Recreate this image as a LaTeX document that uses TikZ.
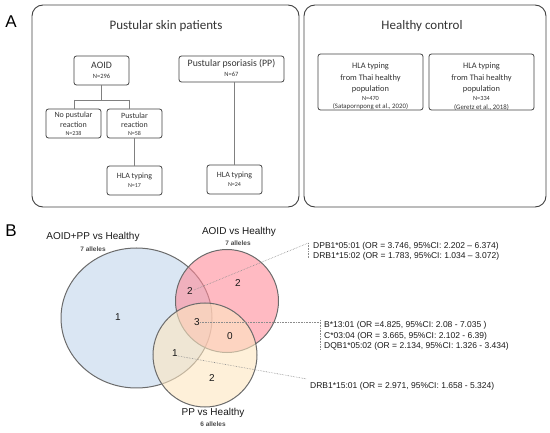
\documentclass[tikz,border=0pt]{standalone}
\usepackage{fontspec}
\setmainfont{Carlito}
\newfontfamily\arialf{Liberation Sans}
\definecolor{boxline}{HTML}{404040}
\definecolor{txtgrey}{HTML}{333333}
\definecolor{conn}{HTML}{808080}
\definecolor{blueC}{HTML}{DAE6F3}
\definecolor{redC}{HTML}{FF8C9A}
\definecolor{yelC}{HTML}{FDE6C0}
\definecolor{vennline}{HTML}{6B6B6B}
\definecolor{dotc}{HTML}{8C8C8C}
\newcommand{\fs}[1]{\fontsize{#1}{#1}\selectfont}
\tikzset{
  panel/.style={draw=boxline, line width=0.9pt, rounded corners=11pt},
  box/.style={draw=boxline, line width=0.8pt, rounded corners=2.5pt, inner sep=0pt},
  txt/.style={inner sep=0pt, text=txtgrey},
  conline/.style={draw=conn, line width=0.6pt},
  vtxt/.style={inner sep=0pt, text=black!90, font=\arialf\fs{10}},
  anno/.style={inner sep=0pt, anchor=west, text=black!90, font=\arialf\fs{8.5}},
  dotl/.style={draw=dotc, line width=0.6pt, densely dotted},
  vline/.style={draw=vennline, line width=1pt},
  alle/.style={inner sep=0pt, font=\arialf\bfseries\fs{6.5}, text=black!70}
}
\begin{document}
\begin{tikzpicture}[x=1pt,y=-1pt]
\useasboundingbox (0,0) rectangle (550,433);
% ---------- Panel A ----------
\node[inner sep=0pt, font=\arialf\fs{17}] (labA) at (11,22) {A};
\node[panel, minimum width=267pt, minimum height=202pt] (left) at (165.5,106) {};
\node[panel, minimum width=242pt, minimum height=202pt] (right) at (425,106) {};
\node[txt, font=\fs{13}] (leftT) at (166,26) {Pustular skin patients};
\node[txt, font=\fs{13}] (rightT) at (422,26) {Healthy control};

% AOID
\node[box, minimum width=55pt, minimum height=29pt] (aoid) at (101.5,70.5) {};
\node[txt, font=\fs{9.8}] (aoidT) at (101.5,65) {AOID};
\node[txt, font=\fs{6.5}] (aoidN) at (101.5,76.5) {N=296};
% PP
\node[box, minimum width=105pt, minimum height=26pt] (pp) at (231.5,69) {};
\node[txt, font=\fs{9.8}] (ppT) at (231.5,64) {Pustular psoriasis (PP)};
\node[txt, font=\fs{6.5}] (ppN) at (231.5,74.5) {N=67};
% No pustular
\node[box, minimum width=55pt, minimum height=29pt] (nop) at (73.5,123.5) {};
\node[txt, font=\fs{8}] (nopT1) at (73.5,115.5) {No pustular};
\node[txt, font=\fs{8}] (nopT2) at (73.5,125) {reaction};
\node[txt, font=\fs{6}] (nopN) at (73.5,133.5) {N=238};
% Pustular reaction
\node[box, minimum width=55pt, minimum height=29pt] (pus) at (134.5,123.5) {};
\node[txt, font=\fs{8}] (pusT1) at (134.5,115.5) {Pustular};
\node[txt, font=\fs{8}] (pusT2) at (134.5,125) {reaction};
\node[txt, font=\fs{6}] (pusN) at (134.5,133.5) {N=58};
% HLA typing boxes
\node[box, minimum width=55pt, minimum height=29pt] (hla1) at (134.5,180.5) {};
\node[txt, font=\fs{8}] (hla1T) at (134.5,176.5) {HLA typing};
\node[txt, font=\fs{6}] (hla1N) at (134.5,186) {N=17};
\node[box, minimum width=55pt, minimum height=29pt] (hla2) at (234.5,179.5) {};
\node[txt, font=\fs{8}] (hla2T) at (234.5,175.5) {HLA typing};
\node[txt, font=\fs{6}] (hla2N) at (234.5,185) {N=24};
% connectors
\coordinate (brL) at (74,100);
\coordinate (brR) at (129,100);
\draw[conline] (aoid.south) -- (aoid.south |- brL);
\draw[conline] (brL) -- (brR);
\draw[conline] (brL) -- (brL |- nop.north);
\draw[conline] (brR) -- (brR |- pus.north);
\draw[conline] (pus.south) -- (hla1.north);
\draw[conline] (hla2.north |- pp.south) -- (hla2.north);

% healthy boxes
\node[box, minimum width=105pt, minimum height=56pt] (hc1) at (370.5,82) {};
\node[txt, font=\fs{8.4}] (hc1a) at (370.5,66) {HLA typing};
\node[txt, font=\fs{8.4}] (hc1b) at (370.5,78) {from Thai healthy};
\node[txt, font=\fs{8.4}] (hc1c) at (370.5,89.5) {population};
\node[txt, font=\fs{6.3}] (hc1d) at (370.5,98.5) {N=470};
\node[txt, font=\fs{6.8}] (hc1e) at (370.5,107) {(Satapornpong et al., 2020)};
\node[box, minimum width=105pt, minimum height=56pt] (hc2) at (481.5,82) {};
\node[txt, font=\fs{8.4}] (hc2a) at (481.5,66) {HLA typing};
\node[txt, font=\fs{8.4}] (hc2b) at (481.5,78) {from Thai healthy};
\node[txt, font=\fs{8.4}] (hc2c) at (481.5,89.5) {population};
\node[txt, font=\fs{6.3}] (hc2d) at (481.5,98.5) {N=334};
\node[txt, font=\fs{6.8}] (hc2e) at (481.5,107) {(Geretz et al., 2018)};

% ---------- Panel B ----------
\node[inner sep=0pt, font=\arialf\fs{17}] (labB) at (11,231) {B};
\fill[blueC] (136.5,318) ellipse [x radius=75.5pt, y radius=70pt];
\draw[vline] (136.5,318) ellipse [x radius=75.5pt, y radius=70pt];
\fill[redC, fill opacity=0.6] (227,301) circle [radius=51.5pt];
\draw[vline] (227,301) circle [radius=51.5pt];
\fill[yelC, fill opacity=0.6] (205,355) circle [radius=52pt];
\draw[vline] (205,355) circle [radius=52pt];

\node[vtxt] (labAll) at (93,237) {AOID+PP vs Healthy};
\node[alle] (labAllN) at (93,249) {7 alleles};
\node[vtxt] (labAo) at (239,231.5) {AOID vs Healthy};
\node[alle] (labAoN) at (238,243) {7 alleles};
\node[vtxt] (labPP) at (213,413) {PP vs Healthy};
\node[alle] (labPPN) at (213,424.5) {6 alleles};

\node[vtxt] (n1) at (118,317) {1};
\node[vtxt] (n2) at (190,291) {2};
\node[vtxt] (n2r) at (238,283.5) {2};
\node[vtxt] (n3) at (197,322) {3};
\node[vtxt] (n0) at (230,336) {0};
\node[vtxt] (n1b) at (175,353) {1};
\node[vtxt] (n2y) at (212,378.5) {2};

% annotations
\coordinate (c1) at (308.3,243);
\coordinate (c1b) at (308.3,258.5);
\draw[dotl] ([xshift=1pt,yshift=1pt]n2.east) -- (c1);
\draw[dotl] (c1) -- (c1b);
\node[anno] (a1) at (313,246) {DPB1*05:01 (OR = 3.746, 95\%CI: 2.202 – 6.374)};
\node[anno] (a2) at (313,256.7) {DRB1*15:02 (OR = 1.783, 95\%CI: 1.034 – 3.072)};

\coordinate (c2) at (320,322);
\coordinate (c2a) at (320,320);
\coordinate (c2b) at (320,349);
\draw[dotl] (n3.east) -- (c2);
\draw[dotl] (c2a) -- (c2b);
\node[anno] (a3) at (324,325) {B*13:01 (OR =4.825, 95\%CI: 2.08 - 7.035 )};
\node[anno] (a4) at (324,336) {C*03:04 (OR = 3.665, 95\%CI: 2.102 - 6.39)};
\node[anno] (a5) at (324,346.7) {DQB1*05:02 (OR = 2.134, 95\%CI: 1.326 - 3.434)};

\coordinate (c3) at (307,379);
\draw[dotl] ([yshift=-3pt]n1b.east) -- (c3);
\node[anno] (a6) at (310,386) {DRB1*15:01 (OR = 2.971, 95\%CI: 1.658 - 5.324)};
\end{tikzpicture}
\end{document}
